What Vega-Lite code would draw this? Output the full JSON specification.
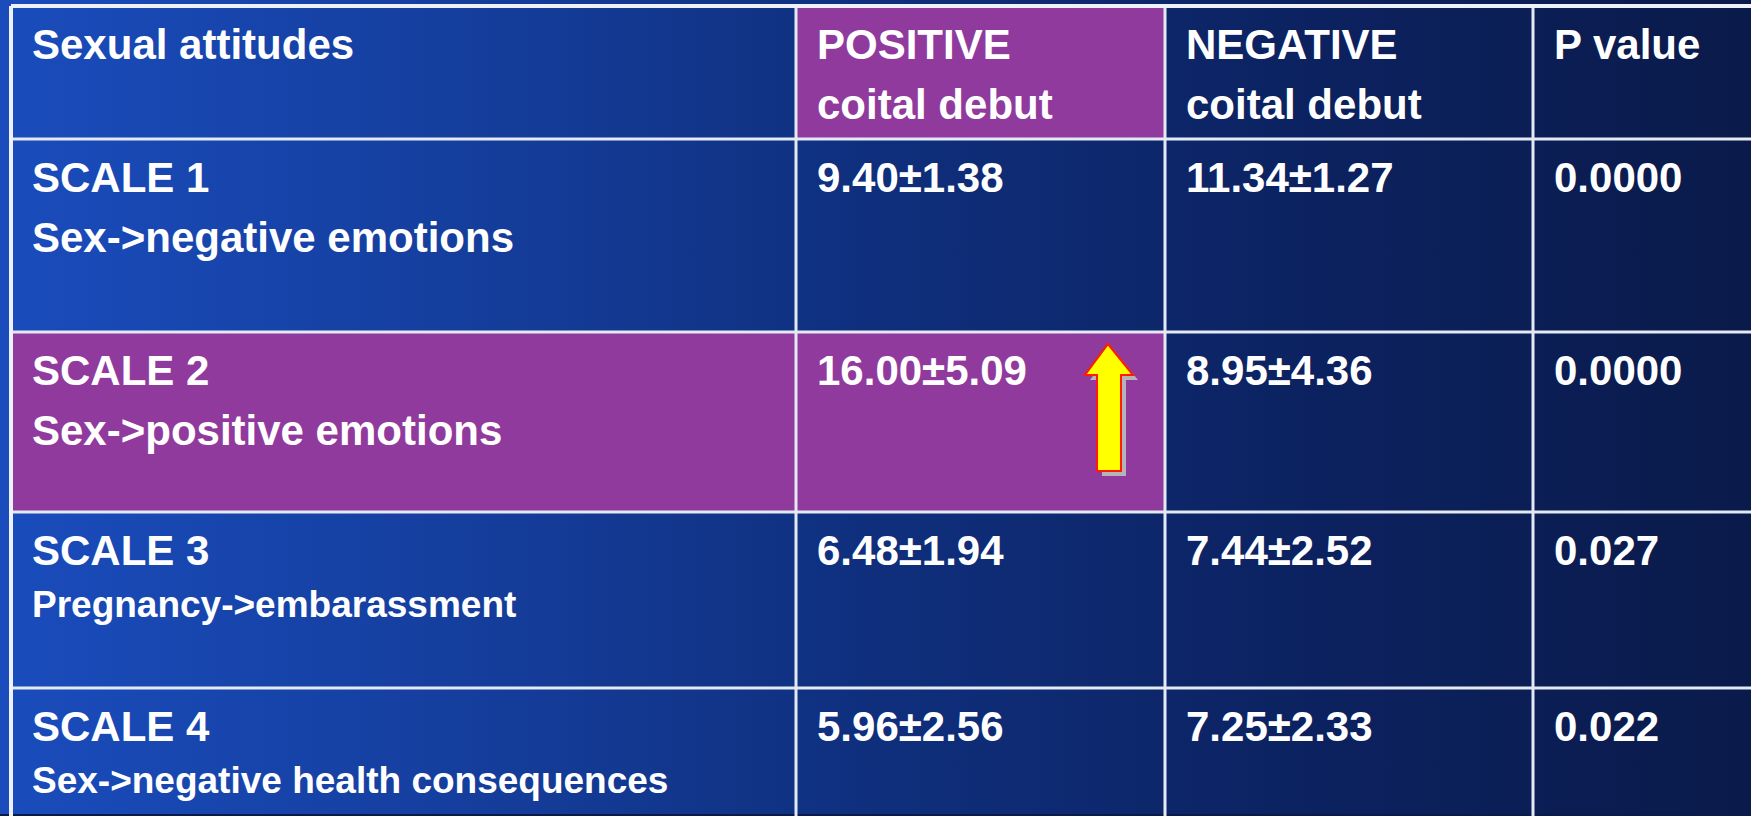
{
  "$schema": "https://vega.github.io/schema/vega-lite/v6.json",
  "width": 1751,
  "height": 816,
  "autosize": {"type": "fit", "contains": "padding"},
  "padding": 0,
  "background": "#0a1a4a",
  "config": {
    "view": {
      "stroke": null,
      "fill": {
        "gradient": "linear",
        "x1": 0, "y1": 0, "x2": 1, "y2": 0,
        "stops": [
          {"offset": 0, "color": "#1a4cbc"},
          {"offset": 0.25, "color": "#153f9f"},
          {"offset": 0.5, "color": "#0f2f7d"},
          {"offset": 0.75, "color": "#0c2260"},
          {"offset": 1, "color": "#0a1a4a"}
        ]
      }
    },
    "text": {"font": "Liberation Sans", "fontWeight": "bold", "color": "#ffffff"}
  },
  "datasets": {
    "cells": [
      {"row": 0, "col": 0, "line": 1, "label": "Sexual attitudes"},
      {"row": 0, "col": 1, "line": 1, "label": "POSITIVE"},
      {"row": 0, "col": 1, "line": 2, "label": "coital debut"},
      {"row": 0, "col": 2, "line": 1, "label": "NEGATIVE"},
      {"row": 0, "col": 2, "line": 2, "label": "coital debut"},
      {"row": 0, "col": 3, "line": 1, "label": "P value"},
      {"row": 1, "col": 0, "line": 1, "label": "SCALE 1"},
      {"row": 1, "col": 0, "line": 2, "label": "Sex->negative emotions"},
      {"row": 1, "col": 1, "line": 1, "label": "9.40±1.38"},
      {"row": 1, "col": 2, "line": 1, "label": "11.34±1.27"},
      {"row": 1, "col": 3, "line": 1, "label": "0.0000"},
      {"row": 2, "col": 0, "line": 1, "label": "SCALE 2"},
      {"row": 2, "col": 0, "line": 2, "label": "Sex->positive emotions"},
      {"row": 2, "col": 1, "line": 1, "label": "16.00±5.09"},
      {"row": 2, "col": 2, "line": 1, "label": "8.95±4.36"},
      {"row": 2, "col": 3, "line": 1, "label": "0.0000"},
      {"row": 3, "col": 0, "line": 1, "label": "SCALE 3"},
      {"row": 3, "col": 0, "line": 2, "label": "Pregnancy->embarassment"},
      {"row": 3, "col": 1, "line": 1, "label": "6.48±1.94"},
      {"row": 3, "col": 2, "line": 1, "label": "7.44±2.52"},
      {"row": 3, "col": 3, "line": 1, "label": "0.027"},
      {"row": 4, "col": 0, "line": 1, "label": "SCALE 4"},
      {"row": 4, "col": 0, "line": 2, "label": "Sex->negative health consequences"},
      {"row": 4, "col": 1, "line": 1, "label": "5.96±2.56"},
      {"row": 4, "col": 2, "line": 1, "label": "7.25±2.33"},
      {"row": 4, "col": 3, "line": 1, "label": "0.022"}
    ],
    "highlights": [
      {"rowStart": 0, "rowEnd": 1, "colStart": 1, "colEnd": 2},
      {"rowStart": 2, "rowEnd": 3, "colStart": 0, "colEnd": 2}
    ],
    "hlines": [{"row": 1}, {"row": 2}, {"row": 3}, {"row": 4}],
    "vlines": [{"col": 1}, {"col": 2}, {"col": 3}],
    "arrow": [{"row": 2, "col": 2}]
  },
  "layer": [
    {
      "data": {"name": "highlights"},
      "mark": {"type": "rect", "fill": "#913a9e"},
      "encoding": {
        "x": {"field": "colStart", "type": "quantitative", "axis": null, "scale": {"domain": [0, 1, 2, 3, 4], "range": [11, 796, 1165, 1533, 1751], "nice": false, "zero": false}},
        "x2": {"field": "colEnd"},
        "y": {"field": "rowStart", "type": "quantitative", "axis": null, "scale": {"domain": [0, 1, 2, 3, 4, 5], "range": [6, 139, 332, 512, 688, 816], "nice": false, "zero": false}},
        "y2": {"field": "rowEnd"}
      }
    },
    {
      "data": {"name": "hlines"},
      "mark": {"type": "rule", "stroke": "#e4eaf4", "strokeWidth": 3},
      "encoding": {
        "y": {"field": "row", "type": "quantitative", "axis": null, "scale": {"domain": [0, 1, 2, 3, 4, 5], "range": [6, 139, 332, 512, 688, 816], "nice": false, "zero": false}},
        "x": {"datum": 0, "type": "quantitative", "axis": null, "scale": {"domain": [0, 1, 2, 3, 4], "range": [11, 796, 1165, 1533, 1751], "nice": false, "zero": false}},
        "x2": {"datum": 4}
      }
    },
    {
      "data": {"name": "vlines"},
      "mark": {"type": "rule", "stroke": "#e4eaf4", "strokeWidth": 3},
      "encoding": {
        "x": {"field": "col", "type": "quantitative", "axis": null, "scale": {"domain": [0, 1, 2, 3, 4], "range": [11, 796, 1165, 1533, 1751], "nice": false, "zero": false}},
        "y": {"datum": 0, "type": "quantitative", "axis": null, "scale": {"domain": [0, 1, 2, 3, 4, 5], "range": [6, 139, 332, 512, 688, 816], "nice": false, "zero": false}},
        "y2": {"datum": 5}
      }
    },
    {
      "data": {"values": [{"edge": "top"}]},
      "mark": {"type": "rule", "stroke": "#eef2f8", "strokeWidth": 4},
      "encoding": {
        "y": {"datum": 0, "type": "quantitative", "axis": null, "scale": {"domain": [0, 1, 2, 3, 4, 5], "range": [6, 139, 332, 512, 688, 816], "nice": false, "zero": false}},
        "x": {"datum": 0, "type": "quantitative", "axis": null, "scale": {"domain": [0, 1, 2, 3, 4], "range": [11, 796, 1165, 1533, 1751], "nice": false, "zero": false}},
        "x2": {"datum": 4}
      }
    },
    {
      "data": {"values": [{"edge": "left"}]},
      "mark": {"type": "rule", "stroke": "#eef2f8", "strokeWidth": 4},
      "encoding": {
        "x": {"datum": 0, "type": "quantitative", "axis": null, "scale": {"domain": [0, 1, 2, 3, 4], "range": [11, 796, 1165, 1533, 1751], "nice": false, "zero": false}},
        "y": {"datum": 0, "type": "quantitative", "axis": null, "scale": {"domain": [0, 1, 2, 3, 4, 5], "range": [6, 139, 332, 512, 688, 816], "nice": false, "zero": false}},
        "y2": {"datum": 5}
      }
    },
    {
      "data": {"name": "arrow"},
      "mark": {"type": "point", "filled": true, "fill": "#b4b4b8", "stroke": null, "opacity": 1, "size": 4, "shape": "M-52,17L-27,48L-39,48L-39,144L-63,144L-63,48L-75,48Z"},
      "encoding": {
        "x": {"field": "col", "type": "quantitative", "axis": null, "scale": {"domain": [0, 1, 2, 3, 4], "range": [11, 796, 1165, 1533, 1751], "nice": false, "zero": false}},
        "y": {"field": "row", "type": "quantitative", "axis": null, "scale": {"domain": [0, 1, 2, 3, 4, 5], "range": [6, 139, 332, 512, 688, 816], "nice": false, "zero": false}}
      }
    },
    {
      "data": {"name": "arrow"},
      "mark": {"type": "point", "filled": true, "fill": "#ffff00", "stroke": "#ff1a00", "strokeWidth": 2, "opacity": 1, "size": 4, "shape": "M-57,12L-32,43L-44,43L-44,139L-68,139L-68,43L-80,43Z"},
      "encoding": {
        "x": {"field": "col", "type": "quantitative", "axis": null, "scale": {"domain": [0, 1, 2, 3, 4], "range": [11, 796, 1165, 1533, 1751], "nice": false, "zero": false}},
        "y": {"field": "row", "type": "quantitative", "axis": null, "scale": {"domain": [0, 1, 2, 3, 4, 5], "range": [6, 139, 332, 512, 688, 816], "nice": false, "zero": false}}
      }
    },
    {
      "data": {"name": "cells"},
      "transform": [{"filter": "datum.line == 1"}],
      "mark": {"type": "text", "align": "left", "baseline": "alphabetic", "dx": 21, "dy": 53, "fontSize": 42, "fill": "#ffffff"},
      "encoding": {
        "x": {"field": "col", "type": "quantitative", "axis": null, "scale": {"domain": [0, 1, 2, 3, 4], "range": [11, 796, 1165, 1533, 1751], "nice": false, "zero": false}},
        "y": {"field": "row", "type": "quantitative", "axis": null, "scale": {"domain": [0, 1, 2, 3, 4, 5], "range": [6, 139, 332, 512, 688, 816], "nice": false, "zero": false}},
        "text": {"field": "label"}
      }
    },
    {
      "data": {"name": "cells"},
      "transform": [{"filter": "datum.line == 2 && datum.row <= 2"}],
      "mark": {"type": "text", "align": "left", "baseline": "alphabetic", "dx": 21, "dy": 113, "fontSize": 42, "fill": "#ffffff"},
      "encoding": {
        "x": {"field": "col", "type": "quantitative", "axis": null, "scale": {"domain": [0, 1, 2, 3, 4], "range": [11, 796, 1165, 1533, 1751], "nice": false, "zero": false}},
        "y": {"field": "row", "type": "quantitative", "axis": null, "scale": {"domain": [0, 1, 2, 3, 4, 5], "range": [6, 139, 332, 512, 688, 816], "nice": false, "zero": false}},
        "text": {"field": "label"}
      }
    },
    {
      "data": {"name": "cells"},
      "transform": [{"filter": "datum.line == 2 && datum.row >= 3"}],
      "mark": {"type": "text", "align": "left", "baseline": "alphabetic", "dx": 21, "dy": 105, "fontSize": 37, "fill": "#ffffff"},
      "encoding": {
        "x": {"field": "col", "type": "quantitative", "axis": null, "scale": {"domain": [0, 1, 2, 3, 4], "range": [11, 796, 1165, 1533, 1751], "nice": false, "zero": false}},
        "y": {"field": "row", "type": "quantitative", "axis": null, "scale": {"domain": [0, 1, 2, 3, 4, 5], "range": [6, 139, 332, 512, 688, 816], "nice": false, "zero": false}},
        "text": {"field": "label"}
      }
    }
  ]
}
